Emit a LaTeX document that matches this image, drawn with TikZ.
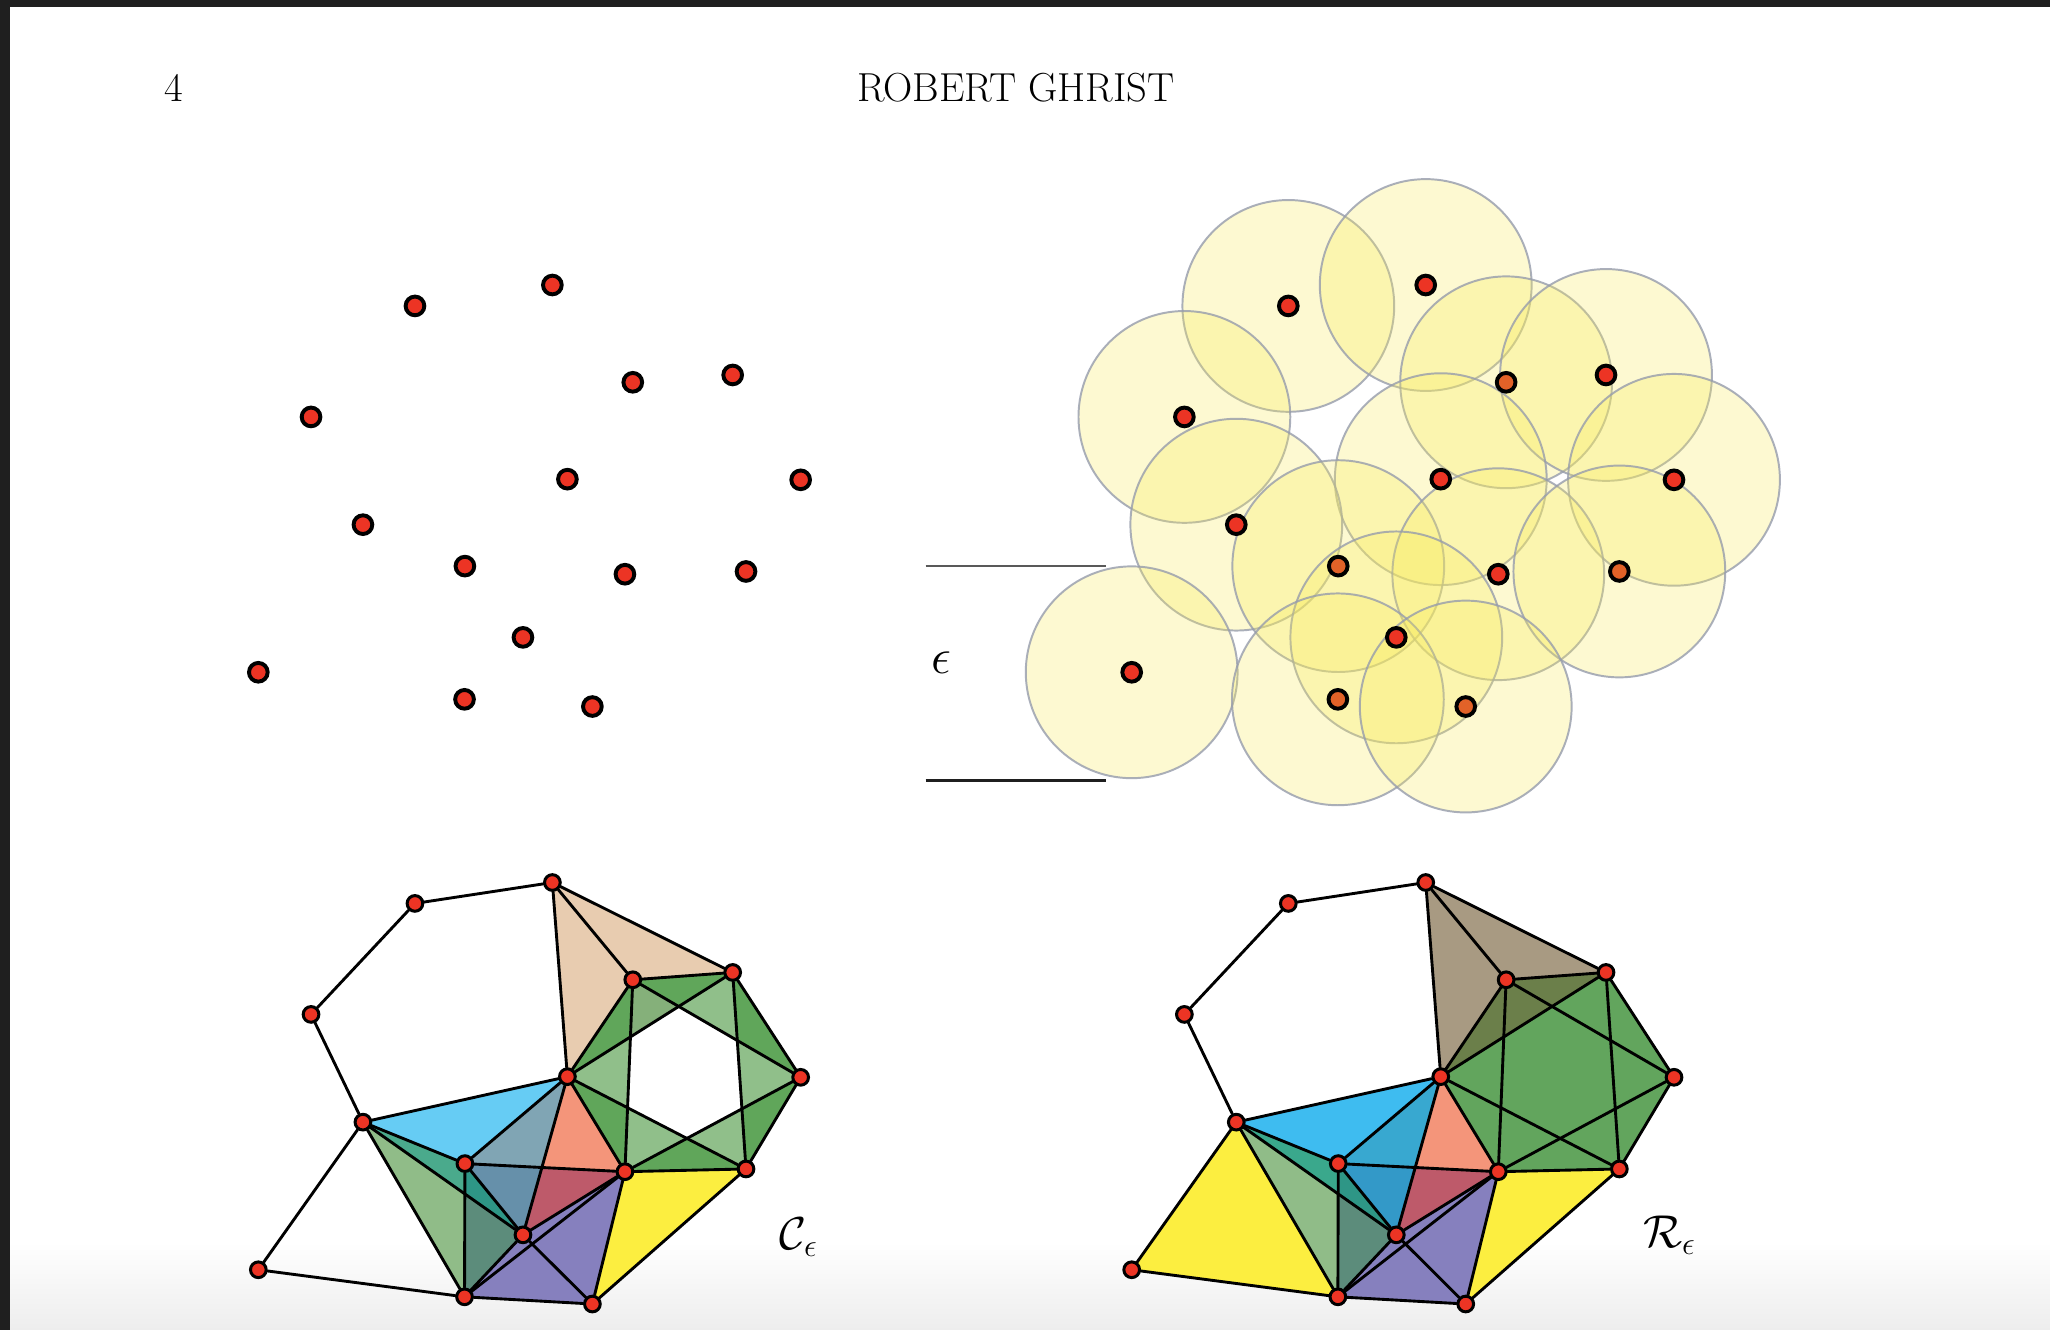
\RequirePackage{fix-cm}
\documentclass[tikz,border=0pt]{standalone}
\usepackage{xcolor}
\usepackage{graphicx}
\usepackage{tikz}
\usetikzlibrary{backgrounds}

\definecolor{dotred}{RGB}{236,52,36}
\definecolor{dotorange}{RGB}{226,98,40}
\definecolor{ballfill}{RGB}{248,235,90}
\definecolor{ballline}{RGB}{150,156,172}
\definecolor{tanC}{RGB}{232,204,176}
\definecolor{tanR}{RGB}{168,154,130}
\definecolor{ringdark}{RGB}{96,166,90}
\definecolor{ringlight}{RGB}{144,191,138}
\definecolor{ringolive}{RGB}{133,176,122}
\definecolor{ringR}{RGB}{98,165,93}
\definecolor{oliveR}{RGB}{107,127,74}
\definecolor{blueC}{RGB}{102,204,244}
\definecolor{blueR}{RGB}{62,188,240}
\definecolor{greyblueC}{RGB}{128,165,180}
\definecolor{greyblueR}{RGB}{56,168,208}
\definecolor{steelC}{RGB}{102,144,170}
\definecolor{steelR}{RGB}{51,153,200}
\definecolor{salmon}{RGB}{244,149,122}
\definecolor{crimson}{RGB}{190,90,106}
\definecolor{tealC}{RGB}{74,170,140}
\definecolor{tealR}{RGB}{58,168,140}
\definecolor{darkteal}{RGB}{46,150,134}
\definecolor{lightgreen}{RGB}{144,188,136}
\definecolor{greygreen}{RGB}{92,140,123}
\definecolor{violetfill}{RGB}{134,128,190}
\definecolor{yellowfill}{RGB}{252,238,64}

\begin{document}
\begin{tikzpicture}[x=1pt, y=-1pt,
    sample/.style={
        circle, draw=black, fill=dotred, line width=3pt,
        minimum size=14.3pt, inner sep=0pt
    },
    vertex/.style={
        circle, draw=black, fill=dotred, line width=2.3pt,
        minimum size=12pt, inner sep=0pt
    },
    link/.style={line width=2.2pt, line cap=round, line join=round},
    ball/.style={
        fill=ballfill, fill opacity=0.28,
        draw=ballline, draw opacity=0.8, line width=1.5pt
    },
    header/.style={font=\fontsize{31}{36}\selectfont, inner sep=0pt, anchor=base},
    mathlabel/.style={font=\fontsize{20.74}{25}\selectfont, inner sep=0pt}
]
\useasboundingbox (0,0) rectangle (1568,1017);

% Running head
\node[header] (pagenum) at (133,78) {4};
\node[header] (runhead) at (777,78) {ROBERT GHRIST};

% Sample points: cloud (P), balls (B), Cech (C), Rips (R)
\foreach \n/\x/\y/\t in {
    a/317.4/234.0/dotred, b/422.5/218.0/dotred, c/484.0/292.4/dotorange,
    d/560.4/286.8/dotred, e/237.9/318.9/dotred, f/434.0/366.5/dotred,
    g/612.4/367.0/dotred, h/277.6/401.3/dotred, i/355.6/433.0/dotorange,
    j/478.0/439.2/dotred, k/570.6/437.1/dotorange, l/400.0/487.5/dotred,
    m/197.6/514.2/dotred, n/355.3/534.9/dotorange, o/453.1/540.4/dotorange}{
    \node[sample] (P\n) at (\x,\y) {};
    \node[sample, fill=\t] (B\n) at (\x+668,\y) {};
    \node[vertex] (C\n) at (\x,\y+457) {};
    \node[vertex] (R\n) at (\x+668,\y+457) {};
}

% Scale bar
\coordinate (bartopL) at (708,433);
\coordinate (bartopR) at (846,433);
\coordinate (barbotL) at (708,597);
\coordinate (barbotR) at (846,597);
\draw[line width=1.5pt, black!65] (bartopL) -- (bartopR);
\draw[line width=2.3pt, black!88] (barbotL) -- (barbotR);
\node[mathlabel] (eps) at (720,507) {\scalebox{1.85}{$\epsilon$}};

% Complex names
\node[mathlabel] (cechname) at (611,946) {\scalebox{1.7}{$\mathcal{C}_\epsilon$}};
\node[mathlabel] (ripsname) at (1277,945) {\scalebox{1.7}{$\mathcal{R}_\epsilon$}};

\begin{scope}[on background layer]
    % Screen frame
    \fill[white] (0,0) rectangle (1568,1017);
    \shade[top color=white, bottom color=black!7] (0,950) rectangle (1568,1017);
    \fill[black!88] (0,0) rectangle (1568,5);
    \fill[black!88] (0,0) rectangle (8,1017);

    % Balls of radius epsilon/2
    \foreach \n in {a,...,o}
        \draw[ball] (B\n.center) circle[radius=81];

    % Crossing points
    \foreach \s in {C,R}{
        \coordinate (\s x1) at (intersection of \s f--\s l and \s i--\s j);
        \coordinate (\s x2) at (intersection of \s h--\s l and \s i--\s n);
        \coordinate (\s qcd) at (intersection of \s c--\s g and \s f--\s d);
        \coordinate (\s qdg) at (intersection of \s c--\s g and \s d--\s k);
        \coordinate (\s qgk) at (intersection of \s g--\s j and \s d--\s k);
        \coordinate (\s qkj) at (intersection of \s g--\s j and \s k--\s f);
        \coordinate (\s qjf) at (intersection of \s j--\s c and \s k--\s f);
        \coordinate (\s qfc) at (intersection of \s j--\s c and \s f--\s d);
    }

    % Cech complex
    \foreach \col/\p/\q/\r in {
        tanC/b/f/d,
        ringdark/c/d/qcd, ringdark/d/g/qdg, ringdark/g/k/qgk,
        ringdark/k/j/qkj, ringdark/j/f/qjf, ringdark/f/c/qfc,
        ringolive/c/qfc/qcd, ringlight/d/qcd/qdg, ringlight/g/qdg/qgk,
        ringlight/k/qgk/qkj, ringlight/j/qkj/qjf, ringlight/f/qjf/qfc,
        blueC/h/f/i, greyblueC/f/i/x1, salmon/f/x1/j, steelC/i/x1/l, crimson/x1/j/l,
        tealC/h/i/x2, darkteal/i/x2/l, lightgreen/h/x2/n, greygreen/x2/l/n,
        violetfill/n/l/j, violetfill/n/j/o, yellowfill/j/k/o}
        \fill[\col] (C\p.center) -- (C\q.center) -- (C\r.center) -- cycle;

    % Rips complex
    \fill[tanR] (Rb.center) -- (Rf.center) -- (Rd.center) -- cycle;
    \fill[ringR] (Rc.center) -- (Rd.center) -- (Rg.center) -- (Rk.center)
        -- (Rj.center) -- (Rf.center) -- cycle;
    \foreach \col/\p/\q/\r in {
        yellowfill/m/h/n, oliveR/f/c/d,
        blueR/h/f/i, greyblueR/f/i/x1, salmon/f/x1/j, steelR/i/x1/l, crimson/x1/j/l,
        tealR/h/i/x2, darkteal/i/x2/l, lightgreen/h/x2/n, greygreen/x2/l/n,
        violetfill/n/l/j, violetfill/n/j/o, yellowfill/j/k/o}
        \fill[\col] (R\p.center) -- (R\q.center) -- (R\r.center) -- cycle;

    % Edges (same 1-skeleton)
    \foreach \u/\v in {
        e/a, a/b, e/h, h/m, m/n, b/f, b/c, b/d, c/d, c/f, d/f, c/g,
        c/j, d/g, d/k, g/k, g/j, f/k, f/j, j/k, h/f, h/i, h/l, h/n,
        f/i, f/l, i/j, i/l, i/n, j/l, n/j, n/l, l/o, n/o, j/o, k/o}{
        \draw[link] (C\u) -- (C\v);
        \draw[link] (R\u) -- (R\v);
    }
\end{scope}

\end{tikzpicture}
\end{document}
